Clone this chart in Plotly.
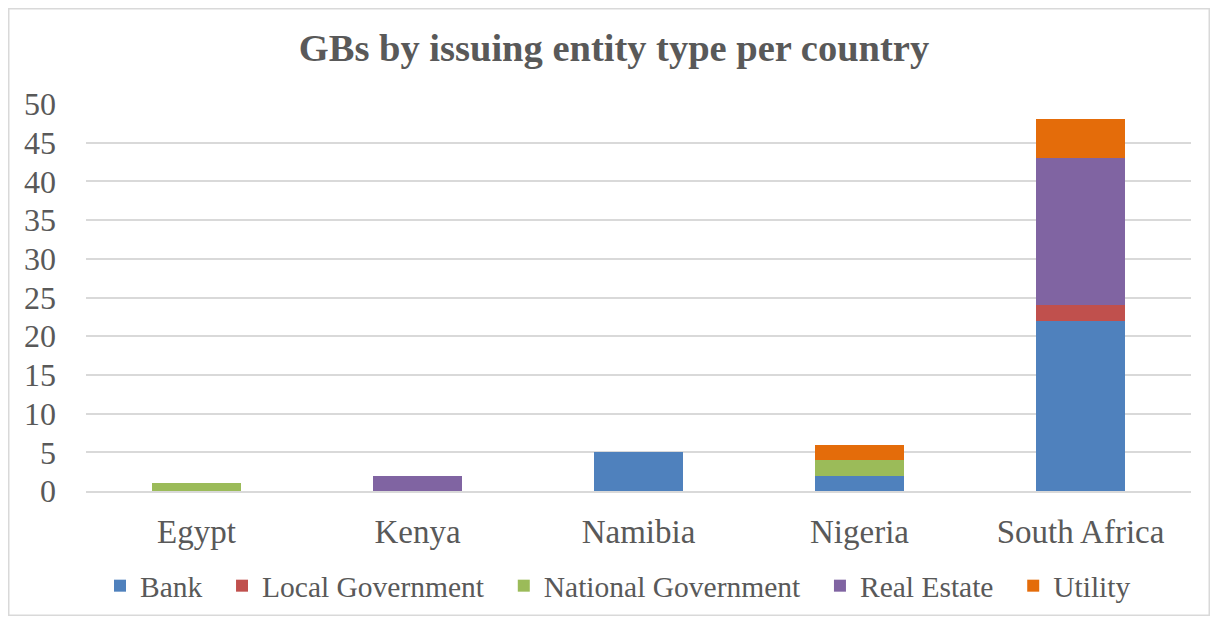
import plotly.graph_objects as go

countries = ["Egypt", "Kenya", "Namibia", "Nigeria", "South Africa"]
bank = [0, 0, 5, 2, 22]
local_gov = [0, 0, 0, 0, 2]
national_gov = [1, 0, 0, 2, 0]
real_estate = [0, 2, 0, 0, 19]
utility = [0, 0, 0, 2, 5]

series = [
    ("Bank", bank, "#4f81bd"),
    ("Local Government", local_gov, "#c0504d"),
    ("National Government", national_gov, "#9bbb59"),
    ("Real Estate", real_estate, "#8064a2"),
    ("Utility", utility, "#e46c0a"),
]

W, H = 1202, 608
L, R, T, B = 78, 19, 96, 125

fig = go.Figure()
for i, (name, vals, col) in enumerate(series):
    label = name + ("\u00a0\u00a0" if i < len(series) - 1 else "")
    fig.add_trace(go.Bar(name=label, x=countries, y=vals, marker=dict(color=col, line=dict(width=0))))

pw = W - L - R
ph = H - T - B
def px(x):
    return (x - L) / pw
def py(y):
    return (H - B - y) / ph

font = "Liberation Serif, Times New Roman, serif"
fig.update_layout(
    width=W, height=H,
    barmode="stack", bargap=0.6,
    margin=dict(l=L, r=R, t=T, b=B, autoexpand=False),
    paper_bgcolor="white", plot_bgcolor="white",
    font=dict(family=font, color="#595959", size=29),
    title=dict(text="<b>GBs by issuing entity type per country</b>", x=606 / W, xref="container",
               xanchor="center",
               y=1 - 40 / H, yanchor="middle", font=dict(size=38.5, color="#595959", family=font)),
    yaxis=dict(range=[0, 50], dtick=5, showgrid=True, gridcolor="#d9d9d9", gridwidth=1.5,
               zeroline=False, showline=False, ticks="", tickfont=dict(size=32),
               ticklabelstandoff=29),
    xaxis=dict(showline=True, linecolor="#d9d9d9", linewidth=1.5, ticks="",
               tickfont=dict(size=33), ticklabelstandoff=11),
    legend=dict(orientation="h", x=px(610), xanchor="center", y=py(578), yanchor="middle",
                font=dict(size=29.5), traceorder="normal", itemwidth=30),
    showlegend=True,
    shapes=[dict(type="rect", xref="paper", yref="paper",
                 x0=px(0.75), x1=px(W - 0.75), y0=py(H - 0.75), y1=py(0.75),
                 line=dict(color="#d9d9d9", width=1.5), fillcolor="rgba(0,0,0,0)", layer="below")],
)

fig.write_html("out.html")
